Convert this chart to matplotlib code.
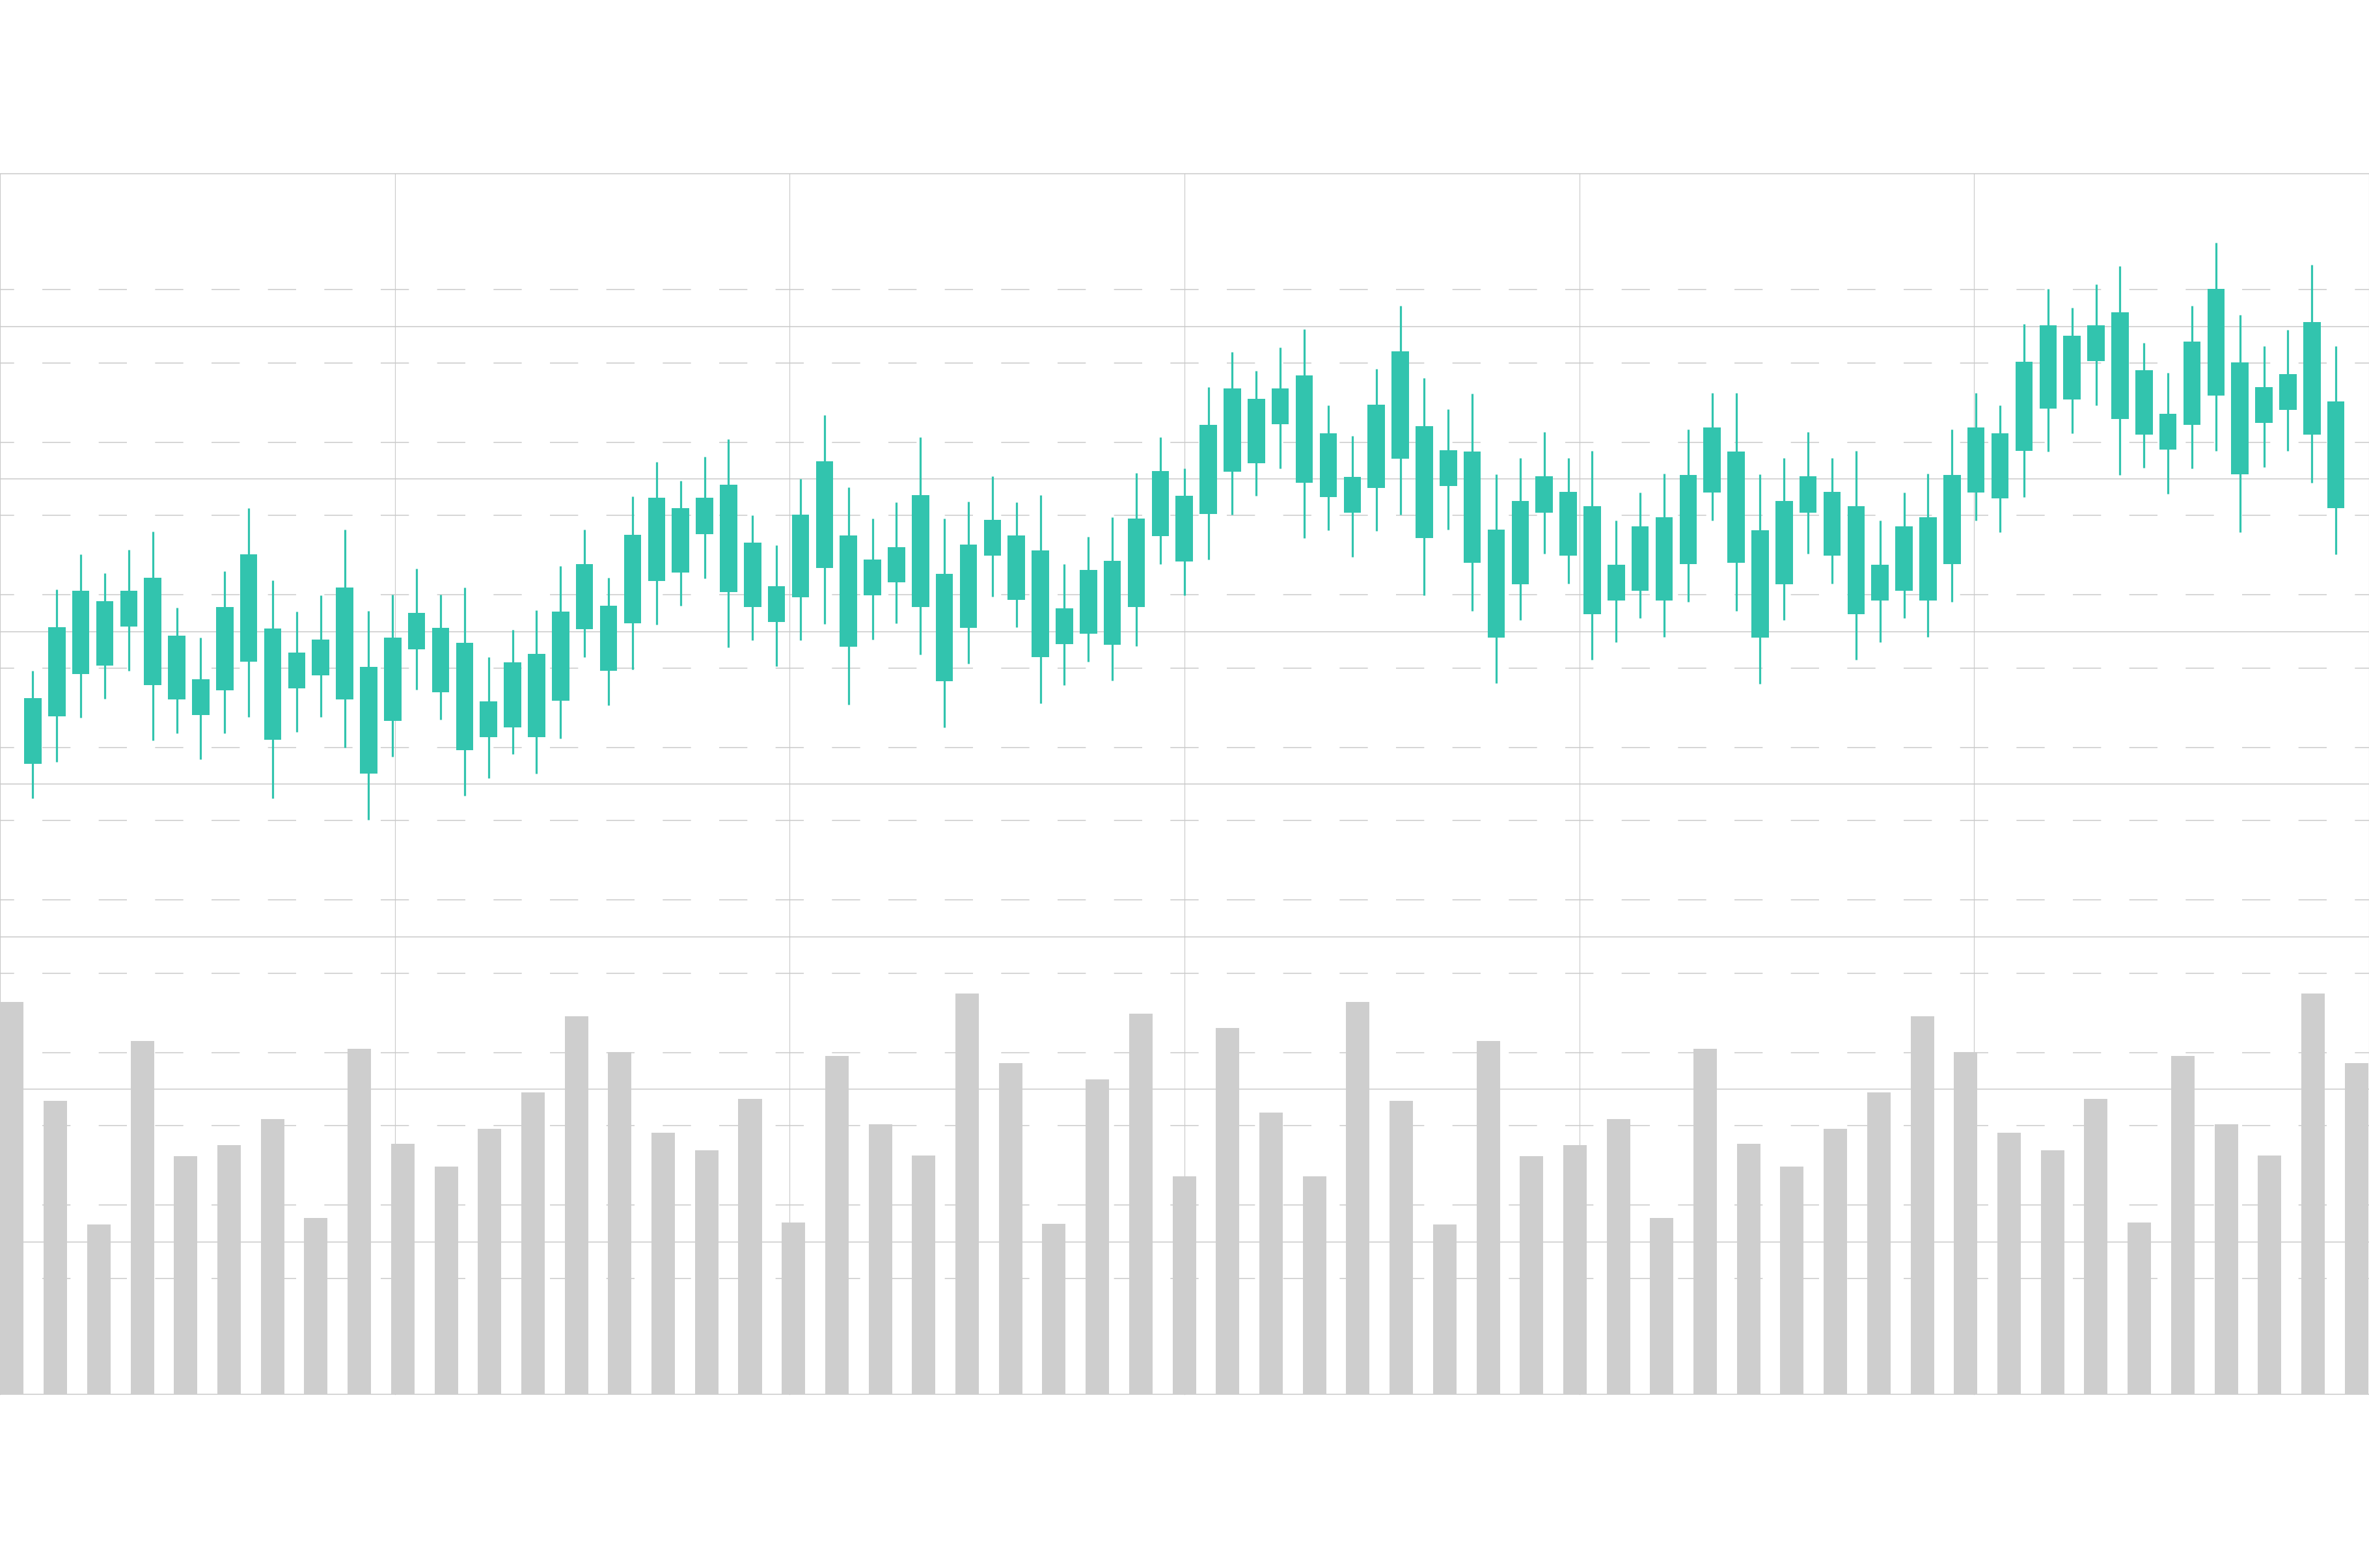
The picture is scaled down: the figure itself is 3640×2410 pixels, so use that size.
import matplotlib
matplotlib.use("Agg")
import matplotlib.pyplot as plt
import numpy as np

# candle values (price units); every candle is the same colour
high = [187.2, 207.6, 216.4, 211.6, 217.5, 222.1, 202.9, 195.4, 212.1, 228.0,
        209.8, 202.0, 206.0, 222.5, 202.1, 206.3, 212.7, 206.2, 208.0, 190.5,
        197.5, 202.3, 213.5, 222.5, 210.5, 230.9, 239.6, 234.8, 240.9, 245.3,
        226.2, 218.7, 235.3, 251.3, 233.2, 225.4, 229.4, 245.8, 225.4, 229.6,
        236.0, 229.4, 231.2, 213.9, 220.8, 225.6, 236.8, 245.8, 237.9, 258.4,
        267.1, 262.4, 268.3, 272.9, 253.7, 246.1, 262.9, 278.8, 260.6, 252.8,
        256.7, 236.4, 240.5, 247.0, 240.5, 242.3, 224.9, 231.9, 236.6, 247.8,
        256.8, 256.8, 236.5, 240.6, 247.1, 240.5, 242.3, 224.9, 231.9, 236.6,
        247.8, 256.8, 253.8, 274.2, 283.0, 278.2, 284.2, 288.7, 269.5, 261.9,
        278.8, 294.6, 276.5, 268.6, 272.7, 289.1, 268.7]

low = [155.2, 164.2, 175.4, 180.1, 187.2, 169.7, 171.5, 164.9, 171.4, 175.6,
       155.2, 171.7, 175.6, 167.9, 149.7, 165.6, 182.4, 174.9, 155.7, 160.2,
       166.2, 161.4, 170.2, 190.5, 178.5, 187.5, 198.7, 203.5, 210.4, 193.0,
       194.8, 188.3, 194.8, 198.9, 178.6, 195.0, 199.0, 191.2, 173.0, 188.9,
       205.7, 198.1, 178.9, 183.5, 189.4, 184.7, 193.4, 213.9, 206.0, 215.0,
       226.3, 231.0, 238.0, 220.5, 222.4, 215.7, 222.2, 226.3, 206.0, 222.5,
       202.1, 184.0, 199.9, 216.6, 209.0, 189.9, 194.4, 200.4, 195.7, 204.4,
       224.8, 202.1, 183.9, 199.8, 216.6, 209.0, 189.9, 194.4, 200.4, 195.7,
       204.4, 224.8, 221.9, 230.8, 242.1, 246.8, 253.8, 236.3, 238.1, 231.6,
       238.0, 242.3, 221.9, 238.3, 242.3, 234.4, 216.3]

body_top = [180.2, 198.0, 207.3, 204.6, 207.2, 210.5, 196.0, 185.0, 203.1, 216.4,
            197.8, 191.7, 195.0, 208.0, 188.1, 195.5, 201.6, 197.9, 194.1, 179.4,
            189.2, 191.4, 202.0, 214.0, 203.5, 221.3, 230.6, 228.0, 230.6, 233.9,
            219.3, 208.4, 226.4, 239.7, 221.1, 215.1, 218.2, 231.2, 211.5, 218.8,
            225.0, 221.1, 217.4, 202.8, 212.5, 214.7, 225.4, 237.3, 231.0, 248.8,
            258.1, 255.4, 258.1, 261.3, 246.8, 235.8, 253.9, 267.3, 248.6, 242.5,
            242.2, 222.5, 229.8, 236.0, 232.1, 228.4, 213.8, 223.4, 225.7, 236.3,
            248.3, 242.2, 222.4, 229.8, 236.0, 232.1, 228.4, 213.8, 223.4, 225.7,
            236.3, 248.3, 246.8, 264.7, 273.9, 271.3, 273.9, 277.1, 262.6, 251.7,
            269.8, 283.0, 264.5, 258.4, 261.6, 274.6, 254.8]

body_bottom = [163.7, 175.7, 186.3, 188.5, 198.2, 183.6, 179.9, 176.0, 182.2, 189.5,
               169.8, 182.8, 186.0, 180.0, 161.3, 174.6, 192.6, 181.7, 167.2, 170.5,
               173.0, 170.4, 179.7, 197.6, 187.1, 199.0, 209.6, 211.8, 221.5, 206.9,
               203.2, 199.4, 205.6, 212.9, 193.1, 206.1, 209.3, 203.2, 184.6, 197.9,
               216.0, 205.0, 190.5, 193.8, 196.4, 193.7, 203.1, 220.9, 214.5, 226.5,
               237.1, 239.3, 249.0, 234.3, 230.7, 226.8, 233.0, 240.3, 220.5, 233.5,
               214.2, 195.5, 208.8, 226.9, 216.0, 201.4, 204.7, 207.3, 204.7, 214.0,
               231.9, 214.2, 195.5, 208.8, 226.9, 216.0, 201.4, 204.7, 207.3, 204.7,
               214.0, 231.9, 230.4, 242.3, 253.0, 255.2, 264.9, 250.3, 246.5, 242.7,
               248.8, 256.2, 236.4, 249.3, 252.6, 246.5, 227.9]

# volume bars (own scale)
volume = [139.1, 104.1, 60.1, 125.3, 84.4, 88.3, 97.6, 62.6, 122.5, 88.8,
          80.8, 94.0, 106.9, 133.9, 121.3, 92.8, 86.5, 104.8, 60.9, 119.8,
          95.8, 84.7, 142.1, 117.3, 60.5, 111.6, 134.8, 77.3, 129.9, 99.8,
          77.3, 139.1, 104.1, 60.1, 125.3, 84.4, 88.3, 97.6, 62.6, 122.5,
          88.8, 80.8, 94.0, 106.9, 133.9, 121.3, 92.8, 86.5, 104.8, 60.9,
          119.8, 95.8, 84.7, 142.1, 117.3]

CANDLE = "#32c4ae"
BAR = "#cecece"
GRID = "#cacaca"

plt.rcParams["lines.scale_dashes"] = False

fig = plt.figure(figsize=(36.4, 24.1), dpi=100)
fig.patch.set_facecolor("white")
rect = [0.0, 267 / 2410 * 0 + (2410 - 2143) / 2410, 1.0, 1876 / 2410]

# background grid: 6 columns, 8 rows, dashed lines either side of inner rows
ax_grid = fig.add_axes(rect, zorder=0)
ax_grid.set_xlim(0, 6)
ax_grid.set_ylim(0, 8)
ax_grid.axis("off")
for k in range(9):
    ax_grid.axhline(k, color=GRID, lw=1.1, clip_on=False)
for k in range(7):
    ax_grid.axvline(k, color=GRID, lw=0.85, clip_on=False)
for k in range(1, 8):
    for off in (-0.239, 0.239):
        ax_grid.axhline(k + off, color=GRID, lw=1.1,
                        linestyle=(15.6, (31.2, 31.2)))

# volume
ax_vol = fig.add_axes(rect, zorder=1)
ax_vol.patch.set_alpha(0)
xv = np.arange(len(volume))
ax_vol.bar(xv, volume, width=0.54, color=BAR, linewidth=0)
ax_vol.set_xlim(-0.277, 54.29)
ax_vol.set_ylim(0, 432.6)
ax_vol.axis("off")

# candles
ax = fig.add_axes(rect, zorder=2)
ax.patch.set_alpha(0)
xc = np.arange(len(high))
ax.vlines(xc, low, high, color=CANDLE, lw=2.3)
ax.bar(xc, np.array(body_top) - np.array(body_bottom), bottom=body_bottom,
       width=0.72, color=CANDLE, linewidth=0)
ax.set_xlim(-1.367, 97.38)
ax.set_ylim(5.51, 311.92)
ax.axis("off")

fig.savefig("out.png", dpi=100, facecolor="white")
